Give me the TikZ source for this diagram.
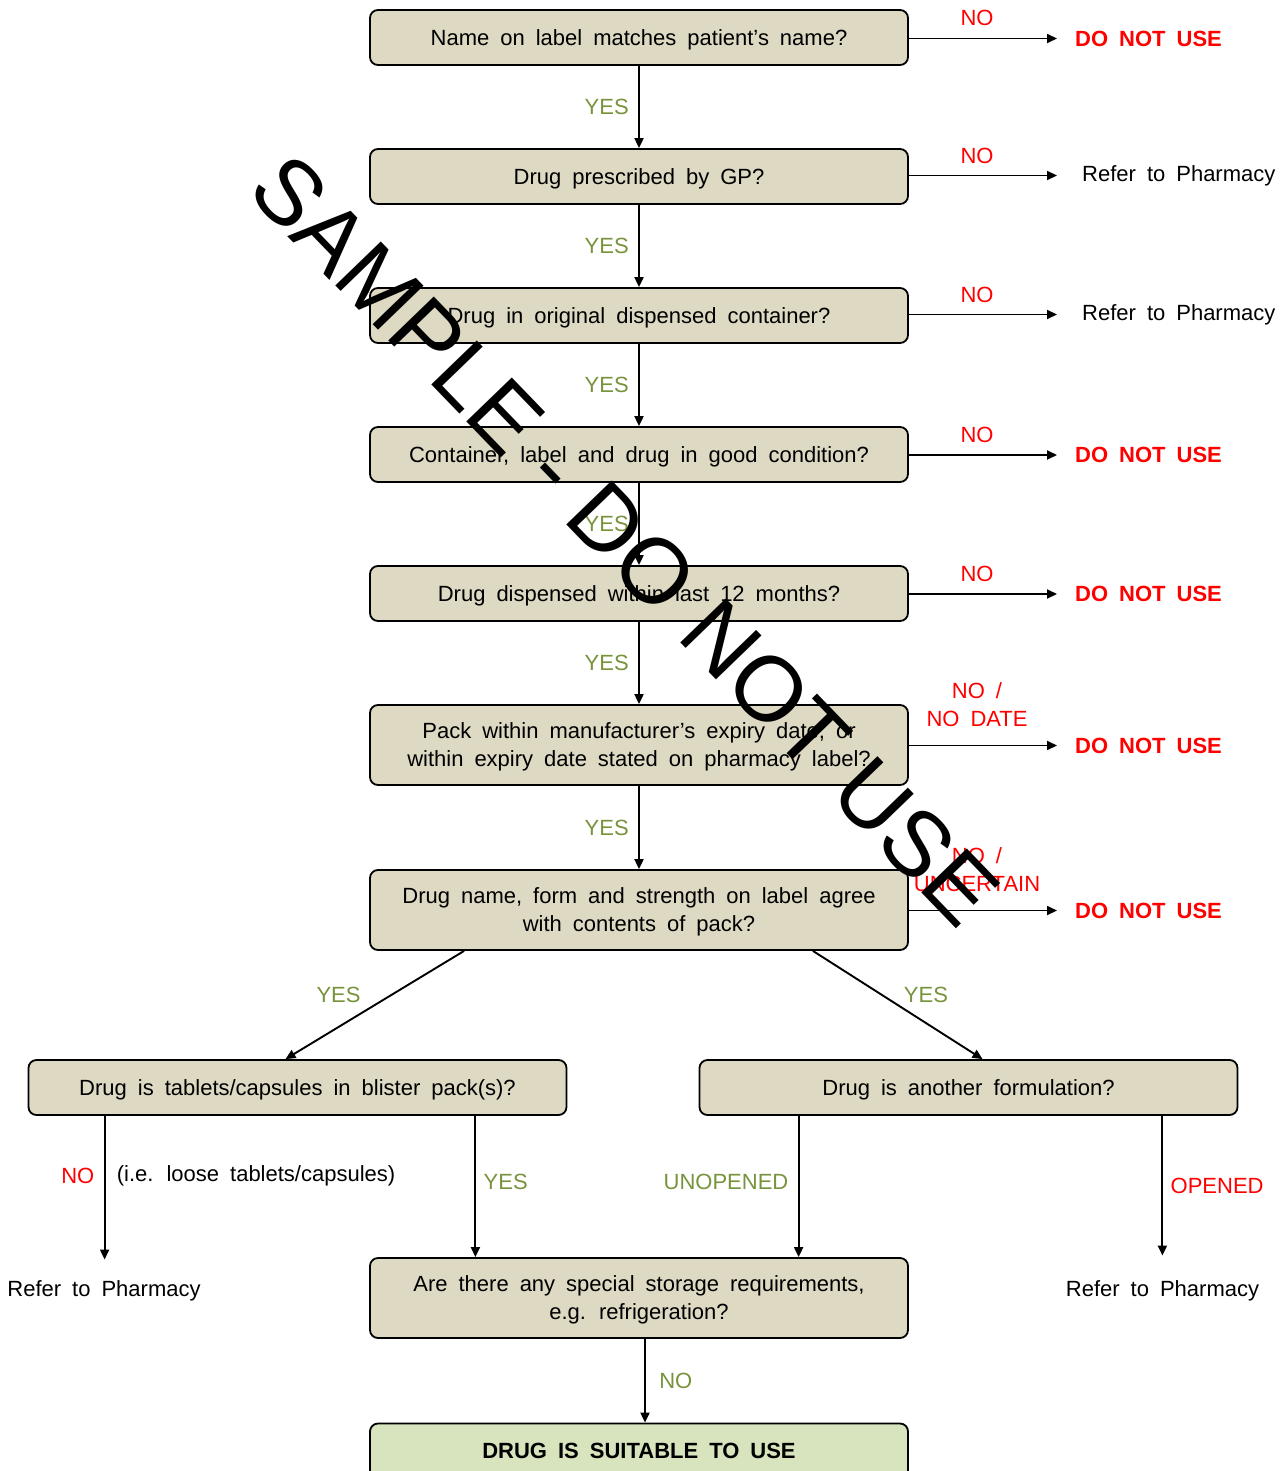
\documentclass[tikz,border=0pt]{standalone}
\usepackage{fontspec}
\setmainfont{Liberation Sans}[WordSpace=1.8]
\newfontfamily\markfont{Liberation Sans}
\usetikzlibrary{positioning,arrows.meta}
\definecolor{boxtan}{HTML}{DDD9C3}
\definecolor{okgreen}{HTML}{D7E4BD}
\definecolor{yesgreen}{HTML}{77933C}
\definecolor{nored}{HTML}{FF0000}

\begin{document}
\begin{tikzpicture}[x=1pt,y=-1pt,
  every node/.style={font=\fontsize{22}{28}\selectfont},
  q/.style={draw,fill=boxtan,rounded corners=8pt,line width=1.8pt,minimum width=538pt,minimum height=55pt,align=center,inner sep=0pt,text depth=0pt},
  yes/.style={text=yesgreen,align=center},
  no/.style={text=nored,align=center},
  stop/.style={text=nored,anchor=west,inner xsep=18pt,font=\fontsize{22}{28}\selectfont\bfseries},
  refer/.style={anchor=west,inner xsep=25pt},
  arr/.style={line width=1.9pt,-{Triangle[length=10pt,width=9pt]}}]
  \useasboundingbox (0,0) rectangle (1287,1471);

  % questions
  \node[q] (name) at (639,37.5) {Name on label matches patient’s name?};
  \node[q] (gp) at (639,176.5) {Drug prescribed by GP?};
  \node[q] (orig) at (639,315.5) {Drug in original dispensed container?};
  \node[q] (cond) at (639,454.5) {Container, label and drug in good condition?};
  \node[q] (months) at (639,593.5) {Drug dispensed within last 12 months?};
  \node[q,minimum height=80pt] (expiry) at (639,745) {Pack within manufacturer’s expiry date, or\\within expiry date stated on pharmacy label?};
  \node[q,minimum height=80pt] (agree) at (639,910) {Drug name, form and strength on label agree\\with contents of pack?};
  \node[q] (blister) at (297.5,1087.5) {Drug is tablets/capsules in blister pack(s)?};
  \node[q] (other) at (968.5,1087.5) {Drug is another formulation?};
  \node[q,minimum height=80pt] (storage) at (639,1298) {Are there any special storage requirements,\\e.g. refrigeration?};
  \node[q,fill=okgreen,font=\fontsize{22}{28}\selectfont\bfseries] (ok) at (639,1451) {DRUG IS SUITABLE TO USE};

  % outcomes on the right
  \node[stop] (o1) at (1057,38.5) {DO NOT USE};
  \node[refer] (o2) at (1057,175.5) {Refer to Pharmacy};
  \node[refer] (o3) at (1057,314.5) {Refer to Pharmacy};
  \node[stop] (o4) at (1057,455) {DO NOT USE};
  \node[stop] (o5) at (1057,594) {DO NOT USE};
  \node[stop] (o6) at (1057,745.5) {DO NOT USE};
  \node[stop] (o7) at (1057,910.5) {DO NOT USE};
  \node[inner ysep=21pt] (refL) at (104,1291) {Refer to Pharmacy};
  \node[inner ysep=21pt] (refR) at (1162.5,1291) {Refer to Pharmacy};

  \foreach \a/\b in {name/gp,gp/orig,orig/cond,cond/months,months/expiry,expiry/agree}
    \draw[arr] (\a) -- node[yes,left=6pt] {YES} (\b);
  \foreach \a/\b/\l/\d in {name/o1/NO/8,gp/o2/NO/8,orig/o3/NO/8,cond/o4/NO/8,months/o5/NO/8,expiry/o6/{NO /\\NO DATE}/15,agree/o7/{NO /\\UNCERTAIN}/15}
    \draw[arr] (\a.east |- \b.west) -- node[no,above=\d pt,pos=0.46] {\l} (\b);

  % split
  \draw[arr] ([xshift=95pt]agree.south west) -- node[yes,above left=-2pt and 10pt] {YES} ([xshift=-12pt]blister.north);
  \draw[arr] ([xshift=-96pt]agree.south east) -- node[yes,above right=-2pt and 2pt] {YES} ([xshift=14pt]other.north);

  \draw[arr] ([xshift=77pt]blister.south west) coordinate (bl) -- node[no,left=6pt,pos=0.42] {NO} node[right=8pt,pos=0.42] {(i.e. loose tablets/capsules)} (bl |- refL.north);
  \draw[arr] ([xshift=-92pt]blister.south east) coordinate (br) -- node[yes,right=4pt,pos=0.47] {YES} (br |- storage.north);
  \draw[arr] ([xshift=100pt]other.south west) coordinate (ol) -- node[yes,left=6pt,pos=0.47] {UNOPENED} (ol |- storage.north);
  \draw[arr] ([xshift=-76pt]other.south east) coordinate (or) -- node[no,right=4pt,pos=0.5] {OPENED} ([yshift=4pt]or |- refR.north);
  \draw[arr] ([xshift=6pt]storage.south) coordinate (sb) -- node[yes,right=10pt] {NO} (sb |- ok.north);

  % watermark
  \node[rotate=-46,font=\markfont\fontsize{92}{92}\selectfont] (mark) at (625,540) {SAMPLE - DO NOT USE};
\end{tikzpicture}
\end{document}
